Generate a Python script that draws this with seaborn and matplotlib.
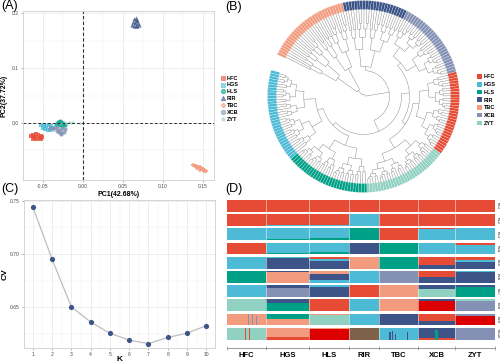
import matplotlib
matplotlib.use('Agg')
import numpy as np
import pandas as pd
import matplotlib.pyplot as plt
import seaborn as sns
from matplotlib.lines import Line2D
from matplotlib.patches import Patch, Polygon

# ---- data ----
groups = ['HFC', 'HGS', 'HLS', 'RIR', 'TBC', 'XCB', 'ZYT']
group_colors = ['#E64B35', '#4DBBD5', '#00A087', '#3C5488', '#F39B7F', '#8491B4', '#91D1C2']
group_markers = ['s', 's', 'o', '^', 'P', 'o', '*']
group_sizes = [30, 33, 30, 23, 30, 28, 30]

# PCA scores (A)
hfc_pc1 = [-0.065, -0.062, -0.059, -0.056, -0.053, -0.051, -0.063, -0.060, -0.057, -0.054, -0.052, -0.061]
hfc_pc2 = [-0.024, -0.022, -0.021, -0.022, -0.023, -0.025, -0.029, -0.028, -0.030, -0.027, -0.029, -0.025]
hgs_pc1 = [-0.052, -0.049, -0.046, -0.043, -0.040, -0.038, -0.050, -0.047, -0.044, -0.041]
hgs_pc2 = [-0.004, -0.003, -0.005, -0.004, -0.006, -0.009, -0.009, -0.011, -0.013, -0.012]
hls_pc1 = [-0.034, -0.031, -0.029, -0.027, -0.025, -0.023, -0.030, -0.026]
hls_pc2 = [-0.002, 0.001, 0.003, 0.002, 0.000, -0.003, -0.004, -0.005]
rir_pc1 = [0.062, 0.064, 0.066, 0.068, 0.070, 0.063, 0.065, 0.067, 0.069, 0.064, 0.066, 0.068]
rir_pc2 = [0.178, 0.177, 0.176, 0.177, 0.179, 0.184, 0.183, 0.185, 0.183, 0.189, 0.191, 0.188]
tbc_pc1 = [0.138, 0.140, 0.142, 0.144, 0.146, 0.148, 0.150, 0.152, 0.154, 0.143, 0.147, 0.151]
tbc_pc2 = [-0.077, -0.078, -0.079, -0.080, -0.081, -0.083, -0.084, -0.086, -0.087, -0.082, -0.085, -0.088]
xcb_pc1 = [-0.041, -0.038, -0.035, -0.032, -0.029, -0.026, -0.022, -0.033, -0.030, -0.027, -0.024, -0.028]
xcb_pc2 = [-0.009, -0.011, -0.008, -0.010, -0.012, -0.009, -0.011, -0.015, -0.017, -0.019, -0.016, -0.021]
zyt_pc1 = [-0.024, -0.021, -0.018, -0.015, -0.012, -0.004, -0.028]
zyt_pc2 = [0.001, -0.001, 0.002, 0.000, 0.001, 0.000, -0.001]
pca_points = {'HFC': (hfc_pc1, hfc_pc2), 'HGS': (hgs_pc1, hgs_pc2), 'HLS': (hls_pc1, hls_pc2),
              'RIR': (rir_pc1, rir_pc2), 'TBC': (tbc_pc1, tbc_pc2), 'XCB': (xcb_pc1, xcb_pc2),
              'ZYT': (zyt_pc1, zyt_pc2)}

# cross-validation error (C)
k_values = [1, 2, 3, 4, 5, 6, 7, 8, 9, 10]
cv_values = [0.7445, 0.6954, 0.6506, 0.6362, 0.6257, 0.6192, 0.6159, 0.6217, 0.6257, 0.6328]

# tree (B): clockwise group order and clade radii
tree_order = ['TBC', 'RIR', 'XCB', 'HFC', 'ZYT', 'HLS', 'HGS']
tree_spec = (2, [('TBC', 8), (26, [('RIR', 30), (38, [(46, [('XCB', 50), (50, [('HFC', 56), ('ZYT', 60)])]),
                                                     (42, [('HLS', 52), ('HGS', 48)])])])])
split_ratios = [0.45, 0.35, 0.5, 0.4]

# ancestry (D): per K, per group, components top->bottom
pal = {'r': '#E64B35', 'b': '#4DBBD5', 't': '#00A087', 'n': '#3C5488', 's': '#F39B7F',
       'g': '#8491B4', 'm': '#91D1C2', 'R': '#DC0000', 'w': '#7E6148'}
structure_rows = [
    [[('r', 1)], [('r', 1)], [('r', 1)], [('r', 1)], [('r', 1)], [('r', 1)], [('r', 1)]],
    [[('r', 1)], [('r', .9), ('b', .1)], [('r', .9), ('b', .1)], [('b', 1)], [('r', 1)], [('r', 1)], [('r', 1)]],
    [[('b', 1)], [('b', .88), ('t', .12)], [('b', .8), ('t', .2)], [('t', 1)], [('r', 1)], [('r', .08), ('b', .92)], [('b', 1)]],
    [[('r', 1)], [('b', .9), ('t', .1)], [('b', .8), ('t', .2)], [('n', 1)], [('t', 1)], [('b', 1)], [('r', .2), ('b', .8)]],
    [[('b', 1)], [('b', .12), ('n', .88)], [('r', .15), ('b', .2), ('n', .65)], [('s', 1)], [('t', 1)], [('r', .7), ('n', .3)], [('r', .3), ('b', .15), ('n', .55)]],
    [[('t', 1)], [('n', .12), ('s', .88)], [('s', .25), ('n', .5), ('b', .25)], [('b', 1)], [('g', 1)], [('r', .55), ('n', .45)], [('b', .1), ('n', .9)]],
    [[('b', 1)], [('n', .2), ('g', .8)], [('b', .15), ('n', .85)], [('r', 1)], [('s', 1)], [('n', .3), ('m', .7)], [('n', .15), ('t', .85)]],
    [[('m', 1)], [('n', .35), ('t', .65)], [('r', 1)], [('b', 1)], [('s', 1)], [('n', .15), ('R', .85)], [('m', .1), ('g', .9)]],
    [[('s', 1)], [('t', .5), ('s', .5)], [('s', .12), ('m', .88)], [('b', 1)], [('n', 1)], [('r', .6), ('n', .4)], [('g', .2), ('R', .8)]],
    [[('m', 1)], [('s', .82), ('r', .18)], [('s', .1), ('R', .9)], [('w', 1)], [('b', 1)], [('n', .85), ('r', .15)], [('g', 1)]],
]
# single-sample spikes: (row, sample index, colour, fraction from bottom)
spikes = [(8, 16, 'g', 1.0), (8, 19, 'g', 1.0), (8, 22, 'g', 0.8), (9, 14, 'r', 1.0), (9, 17, 'r', 1.0),
          (9, 124, 'n', 0.6), (9, 126, 'n', 0.7), (9, 128, 'n', 0.5), (9, 137, 'n', 0.6),
          (9, 159, 't', 0.85), (9, 160, 't', 0.85)]

# ---- figure ----
plt.rcParams['font.family'] = ['Liberation Sans', 'DejaVu Sans']
plt.rcParams['axes.unicode_minus'] = False
W, H = 500, 364
fig = plt.figure(figsize=(5, 3.64), dpi=100)


def box(l, t, r, b):
    return [l / W, 1 - b / H, (r - l) / W, (b - t) / H]


def style_panel(ax):
    ax.set_facecolor('white')
    for s in ax.spines.values():
        s.set_color('#CFCFCF')
        s.set_linewidth(0.6)
    ax.grid(which='major', color='#E8E8E8', lw=0.5)
    ax.grid(which='minor', color='#F2F2F2', lw=0.35)
    ax.set_axisbelow(True)
    ax.tick_params(which='major', length=1.5, width=0.4, color='#777777', labelsize=3.6,
                   labelcolor='#4D4D4D', pad=1.5)
    ax.tick_params(which='minor', length=0)


# (A) PCA
axA = fig.add_axes(box(23, 11, 214, 180))
for g, c, m in zip(groups, group_colors, group_markers):
    xs, ys = pca_points[g]
    sns.scatterplot(x=xs, y=ys, color=c, marker=m, s=9, alpha=0.8, linewidth=0, ax=axA, legend=False)
axA.axhline(0, color='#333333', ls=(0, (3, 2)), lw=0.7, zorder=1)
axA.axvline(0, color='#333333', ls=(0, (3, 2)), lw=0.8, zorder=1)
axA.set_xlim(-0.075, 0.164)
axA.set_ylim(-0.104, 0.204)
axA.set_xticks([-0.05, 0.0, 0.05, 0.10, 0.15])
axA.set_xticklabels(['-0.05', '0.00', '0.05', '0.10', '0.15'])
axA.set_xticks([-0.075, -0.025, 0.025, 0.075, 0.125], minor=True)
axA.set_yticks([0.0, 0.1, 0.2])
axA.set_yticklabels(['0.0', '0.1', '0.2'])
axA.set_yticks([-0.05, 0.05, 0.15], minor=True)
style_panel(axA)
axA.set_xlabel('PC1(42.68%)', fontsize=5, fontweight='bold', labelpad=1.5)
axA.set_ylabel('PC2(37.72%)', fontsize=5, fontweight='bold', labelpad=3)
hA = [Line2D([], [], ls='', marker=m, color=c, markersize=3.2, alpha=0.6, markeredgewidth=0.6)
      for c, m in zip(group_colors, group_markers)]
axA.legend(hA, groups, loc='center left', bbox_to_anchor=(1.02, 0.48), frameon=False,
           prop={'size': 4, 'weight': 'bold'}, handlelength=0.8, handletextpad=0.3,
           labelspacing=0.35, borderpad=0)

# (C) CV error
axC = fig.add_axes(box(24, 200, 215, 348))
sns.lineplot(x=k_values, y=cv_values, color='#BDBDBD', lw=0.9, ax=axC)
sns.scatterplot(x=k_values, y=cv_values, color='#3C5488', s=14, linewidth=0, ax=axC, zorder=3)
axC.set_xlim(0.55, 10.45)
axC.set_ylim(0.6118, 0.7507)
axC.set_xticks(k_values)
axC.set_xticks([k + 0.5 for k in k_values[:-1]], minor=True)
axC.set_yticks([0.65, 0.70, 0.75])
axC.set_yticklabels(['0.65', '0.70', '0.75'])
axC.set_yticks([0.625, 0.675, 0.725], minor=True)
style_panel(axC)
axC.set_xlabel('K', fontsize=6, fontweight='bold', labelpad=-0.5)
axC.set_ylabel('CV', fontsize=6, fontweight='bold', labelpad=1)

# (B) circular tree
axB = fig.add_axes(box(255, 0, 475, 200))
axB.set_xlim(255, 475)
axB.set_ylim(200, 0)
axB.axis('off')
CX, CY, R_IN, R_OUT = 363.5, 96.5, 87, 96
START, SPAN = 154, 350
size_of = dict(zip(groups, group_sizes))
color_of = dict(zip(groups, group_colors))
n_leaves = sum(group_sizes)
step = SPAN / n_leaves


def pt(r, a):
    t = np.radians(a)
    return CX + r * np.cos(t), CY - r * np.sin(t)


def sub(n, r, g, depth):
    if n == 1:
        return ('leaf', g)
    a = max(1, int(round(n * split_ratios[depth % 4])))
    nr = r + (R_IN - r) * 0.3
    return (r, [sub(a, nr, g, depth + 1), sub(n - a, nr, g, depth + 1)])


def expand(node):
    if isinstance(node[0], str):
        return sub(size_of[node[0]], node[1], node[0], 0)
    return (node[0], [expand(k) for k in node[1]])


leaf_groups = []
line_kw = dict(color='#7A7A7A', lw=0.3, solid_capstyle='butt')


def draw(node):
    if node[0] == 'leaf':
        i = len(leaf_groups)
        leaf_groups.append(node[1])
        return START - (i + 0.5) * step, R_IN
    r, kids = node
    pts = [draw(k) for k in kids]
    angs = [p[0] for p in pts]
    for a, rr in pts:
        x0, y0 = pt(r, a)
        x1, y1 = pt(rr, a)
        axB.plot([x0, x1], [y0, y1], **line_kw)
    arc = np.linspace(min(angs), max(angs), 60)
    xa, ya = pt(r, arc)
    axB.plot(xa, ya, **line_kw)
    return (angs[0] + angs[-1]) / 2, r


draw(expand(tree_spec))
for i, g in enumerate(leaf_groups):
    a0 = START - i * step
    arc = np.linspace(a0, a0 - step, 6)
    xo, yo = pt(R_OUT, arc)
    xi, yi = pt(R_IN, arc[::-1])
    poly = Polygon(np.column_stack([np.r_[xo, xi], np.r_[yo, yi]]), closed=True,
                   facecolor=color_of[g], edgecolor='white', lw=0.15)
    axB.add_patch(poly)
hB = [Patch(facecolor=c, edgecolor='none') for c in group_colors]
fig.legend(hB, groups, loc='center left', bbox_to_anchor=(474 / W, 1 - 100 / H), frameon=False,
           prop={'size': 4, 'weight': 'bold'}, handlelength=0.9, handleheight=0.9,
           handletextpad=0.4, labelspacing=0.45, borderpad=0)

# (D) ancestry bars
axD = fig.add_axes(box(226.7, 200, 494.5, 348))
pitch = 14.2
row_h = 11.7 / pitch
starts = np.r_[0, np.cumsum(group_sizes)]
for k, row in enumerate(structure_rows):
    for gi, comp in enumerate(row):
        bottom = k
        for key, frac in comp:
            axD.bar(starts[gi], frac * row_h, width=group_sizes[gi], bottom=bottom,
                    align='edge', color=pal[key], linewidth=0)
            bottom += frac * row_h
    for b in starts[1:-1]:
        axD.plot([b, b], [k, k + row_h], color='white', lw=0.5, alpha=0.7)
    axD.text(starts[-1] + 0.6, k + row_h / 2, f'K={k + 1}', rotation=270, fontsize=2.8,
             va='center', ha='left')
for r, idx, key, frac in spikes:
    axD.bar(idx, frac * row_h, width=1, bottom=r + row_h * (1 - frac), align='edge',
            color=pal[key], linewidth=0)
axD.set_xlim(0, starts[-1])
axD.set_ylim(148 / pitch, 0)
for s in ['top', 'left', 'right']:
    axD.spines[s].set_visible(False)
axD.spines['bottom'].set_color('#8A8A8A')
axD.spines['bottom'].set_linewidth(0.6)
axD.set_yticks([])
axD.set_xticks(starts)
axD.set_xticklabels([])
axD.tick_params(axis='x', which='major', direction='inout', length=3, width=0.5, color='#8A8A8A')
axD.set_xticks((starts[:-1] + starts[1:]) / 2, minor=True)
axD.set_xticklabels(groups, minor=True, fontsize=5.5, fontweight='bold')
axD.tick_params(axis='x', which='minor', length=0, pad=3)
axD.set_facecolor('none')

# panel labels
for lab, x, y in [('(A)', 1, 0), ('(B)', 225, 1), ('(C)', 1, 183), ('(D)', 225, 183)]:
    fig.text(x / W, 1 - y / H, lab, fontsize=9, ha='left', va='top')

fig.savefig('out.png', dpi=100)
